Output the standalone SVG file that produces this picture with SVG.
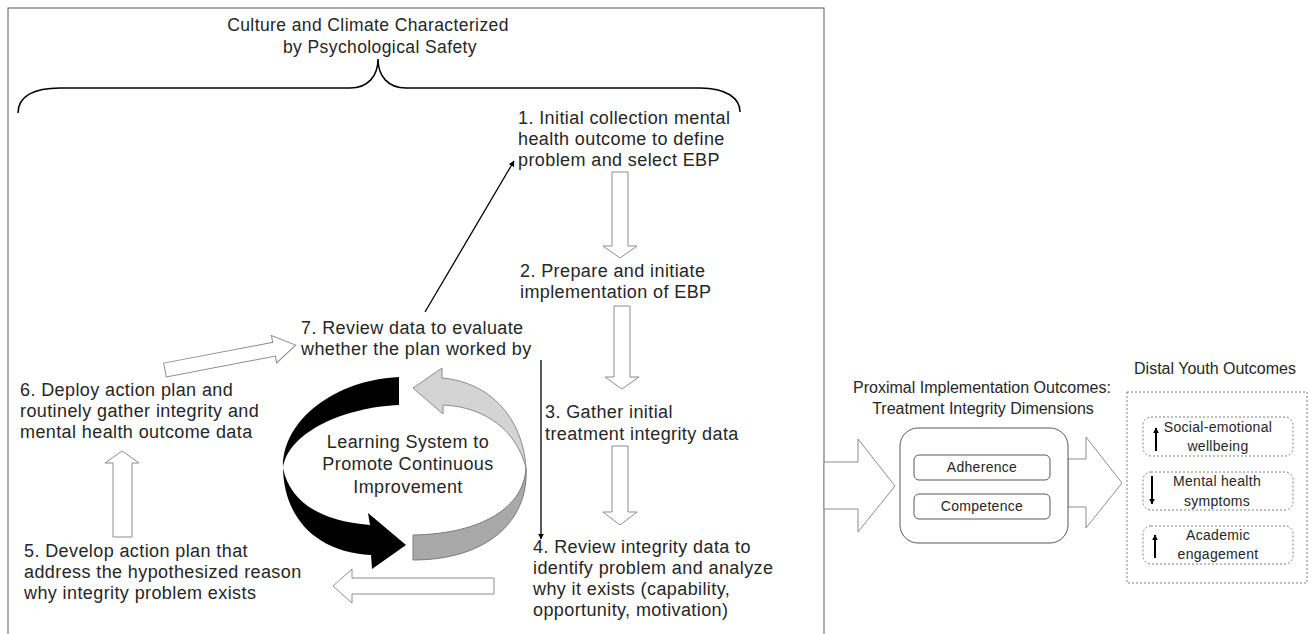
<svg xmlns="http://www.w3.org/2000/svg" width="1309" height="634" viewBox="0 0 1309 634">
<defs>
<style>
.step{font-family:"Liberation Sans",Arial,sans-serif;font-size:18px;letter-spacing:0.4px;fill:#262626}
.ttl{font-family:"Liberation Sans",Arial,sans-serif;font-size:17.5px;letter-spacing:0.4px;fill:#262626;text-anchor:middle}
.lbl{font-family:"Liberation Sans",Arial,sans-serif;font-size:16px;fill:#262626;text-anchor:middle}
.small{font-family:"Liberation Sans",Arial,sans-serif;font-size:14px;letter-spacing:0.3px;fill:#262626;text-anchor:middle}
.hollow{fill:#fff;stroke:#8c8c8c;stroke-width:1}
.thin{stroke:#000;stroke-width:1.3;fill:none}
.tiny{stroke:#000;stroke-width:2;fill:none}
.dash{fill:none;stroke:#7f7f7f;stroke-width:1;stroke-dasharray:2 2}
</style>
<marker id="ah" viewBox="0 0 10 10" refX="9" refY="5" markerWidth="6" markerHeight="6" orient="auto-start-reverse" markerUnits="userSpaceOnUse">
<path d="M0,0 L10,5 L0,10 Z" fill="#000"/>
</marker>
</defs>
<rect width="1309" height="634" fill="#fff"/>
<rect x="8" y="8" width="816" height="640" fill="none" stroke="#595959" stroke-width="1"/>

<g id="culture">
<path d="M18,113 C18,96 34,88 60,88 L350,88 C368,88 378,76 378,59 C378,76 388,88 406,88 L700,88 C726,88 740,98 740,112" fill="none" stroke="#000" stroke-width="1.5"/>
<text class="ttl" x="368" y="31">Culture and Climate Characterized</text>
<text class="ttl" x="380" y="53">by Psychological Safety</text>
</g>

<g id="step1">
<text class="step" x="518" y="124">1. Initial collection mental</text>
<text class="step" x="518" y="145">health outcome to define</text>
<text class="step" x="518" y="166">problem and select EBP</text>
</g>
<g id="step2">
<text class="step" x="520" y="277">2. Prepare and initiate</text>
<text class="step" x="520" y="298">implementation of EBP</text>
</g>
<g id="step3">
<text class="step" x="545" y="418">3. Gather initial</text>
<text class="step" x="545" y="440">treatment integrity data</text>
</g>
<g id="step4">
<text class="step" x="533" y="553">4. Review integrity data to</text>
<text class="step" x="533" y="574">identify problem and analyze</text>
<text class="step" x="533" y="595">why it exists (capability,</text>
<text class="step" x="533" y="616">opportunity, motivation)</text>
</g>
<g id="step5">
<text class="step" x="24" y="557">5. Develop action plan that</text>
<text class="step" x="24" y="578">address the hypothesized reason</text>
<text class="step" x="24" y="599">why integrity problem exists</text>
</g>
<g id="step6">
<text class="step" x="20" y="396">6. Deploy action plan and</text>
<text class="step" x="20" y="417">routinely gather integrity and</text>
<text class="step" x="20" y="438">mental health outcome data</text>
</g>
<g id="step7">
<text class="step" x="301" y="334">7. Review data to evaluate</text>
<text class="step" x="301" y="355">whether the plan worked by</text>
</g>

<g id="learning">
<path d="M399,377 L399,405 C345,407 288,432 283,468 C290,502 320,521 370,525 L368,513 L406,545 L372,569 L371,555 C316,552 284,518 283,468 C282,420 335,380 399,377 Z" fill="#000"/>
<path d="M413,388 L442,368 L442,378 C490,382 523,418 526,468 C517,432 487,407 443,405 L443,414 Z" fill="#d4d4d4" stroke="#8c8c8c" stroke-width="1"/>
<path d="M526,468 C524,507 482,534 413,535 L413,560 C486,560 529,522 526,468 Z" fill="#a9a9a9" stroke="#7a7a7a" stroke-width="1"/>
<text class="step" text-anchor="middle" x="408" y="448">Learning System to</text>
<text class="step" text-anchor="middle" x="408" y="470">Promote Continuous</text>
<text class="step" text-anchor="middle" x="408" y="493">Improvement</text>
</g>

<g id="connectors">
<line class="thin" x1="425" y1="312" x2="514" y2="161" marker-end="url(#ah)"/>
<line class="thin" x1="541" y1="360" x2="541" y2="539" marker-end="url(#ah)"/>
<polygon class="hollow" points="612,172 628,172 628,246 637,246 620,258 603,246 612,246"/>
<polygon class="hollow" points="614,306 630,306 630,377 639,377 622,389 605,377 614,377"/>
<polygon class="hollow" points="612,446 628,446 628,512 637,512 620,525 603,512 612,512"/>
<polygon class="hollow" points="494,578 494,594 352,594 352,603 333,586 352,569 352,578"/>
<polygon class="hollow" points="113,537 132,537 132,463 139,463 122,451 105,463 113,463"/>
<polygon class="hollow" transform="translate(165,370) rotate(-10.8)" points="0,-7 111,-7 111,-14 133,0 111,14 111,7 0,7"/>
<polygon class="hollow" stroke="#7f7f7f" points="824,462 858,462 858,439 895,486 858,532 858,509 824,509"/>
<polygon class="hollow" stroke="#7f7f7f" points="1068,459 1086,459 1086,437 1122,483 1086,528 1086,507 1068,507"/>
</g>

<g id="proximal">
<text class="lbl" x="982" y="393">Proximal Implementation Outcomes:</text>
<text class="lbl" x="983" y="414">Treatment Integrity Dimensions</text>
<rect x="900" y="428" width="168" height="115" rx="18" fill="#fff" stroke="#595959" stroke-width="1"/>
<rect x="914" y="455" width="136" height="25" rx="5" fill="#fff" stroke="#595959" stroke-width="1"/>
<text class="small" x="982" y="472">Adherence</text>
<rect x="914" y="494" width="136" height="25" rx="5" fill="#fff" stroke="#595959" stroke-width="1"/>
<text class="small" x="982" y="511">Competence</text>
</g>

<g id="distal">
<text class="lbl" x="1215" y="374">Distal Youth Outcomes</text>
<rect class="dash" x="1127" y="392" width="180" height="191"/>
<rect class="dash" x="1143" y="417" width="150" height="39" rx="8"/>
<rect class="dash" x="1143" y="472" width="150" height="38" rx="8"/>
<rect class="dash" x="1143" y="526" width="150" height="38" rx="8"/>
<text class="small" x="1218" y="432">Social-emotional</text>
<text class="small" x="1218" y="451">wellbeing</text>
<text class="small" x="1217" y="486">Mental health</text>
<text class="small" x="1217" y="506">symptoms</text>
<text class="small" x="1218" y="540">Academic</text>
<text class="small" x="1218" y="559">engagement</text>
<line class="tiny" x1="1156" y1="451" x2="1156" y2="428" marker-end="url(#ah)"/>
<line class="tiny" x1="1152" y1="476" x2="1152" y2="504" marker-end="url(#ah)"/>
<line class="tiny" x1="1155" y1="558" x2="1155" y2="535" marker-end="url(#ah)"/>
</g>
</svg>
